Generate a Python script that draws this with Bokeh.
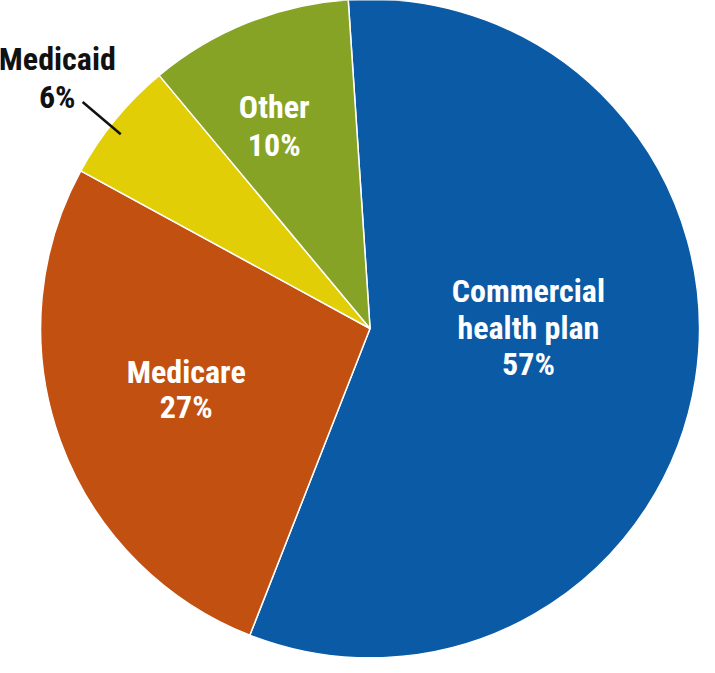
import numpy as np
import pandas as pd
from bokeh.plotting import figure
from bokeh.models import ColumnDataSource, Range1d
from bokeh.core.properties import value
from bokeh.embed import file_html
from bokeh.resources import INLINE

# ---- data ----
categories = ["Commercial health plan", "Medicare", "Medicaid", "Other"]
shares = [57, 27, 6, 10]
colors = ["#0A5AA6", "#C25011", "#E2CE07", "#86A326"]
label_lines = [["Commercial", "health plan", "57%"], ["Medicare", "27%"], ["Medicaid", "6%"], ["Other", "10%"]]

# ---- layout (reference pixel space, y downward) ----
W, H = 715, 673
cx, cy, R = 378, 336, 337
start_deg = 93.8
label_pos = [(540, 298), (190, 381), (58, 60), (280, 109)]
line_gap = [37, 35, 39, 39]
label_colors = ["white", "white", "#111111", "white"]

df = pd.DataFrame({"cat": categories, "share": shares, "color": colors})
df["angle"] = df["share"] / df["share"].sum() * 2 * np.pi
cum = df["angle"].cumsum()
df["start"] = np.deg2rad(start_deg) - (cum - df["angle"])
df["end"] = np.deg2rad(start_deg) - cum
src = ColumnDataSource(df)

p = figure(width=699, height=657, output_backend="svg", toolbar_location=None,
           x_range=Range1d(0, W), y_range=Range1d(0, H), min_border=0)
p.axis.visible = False
p.grid.visible = False
p.outline_line_color = None
p.background_fill_color = "white"

p.wedge(x=cx, y=H - cy, radius=R, start_angle="start", end_angle="end", direction="clock",
        fill_color="color", line_color="white", line_width=1.5, source=src)

font = value("Roboto Condensed")
for lines, (lx, ly), gap, col in zip(label_lines, label_pos, line_gap, label_colors):
    xs = [lx] * len(lines)
    ys = [H - (ly + i * gap) for i in range(len(lines))]
    p.text(x=xs, y=ys, text=lines, text_font=font, text_font_size="32px",
           text_font_style="bold", text_color=col, text_align="center", text_baseline="middle")

# Medicaid leader line
p.line(x=[84, 123], y=[H - 104, H - 137], line_color="#111111", line_width=2.5)

open("out.html", "w").write(file_html(p, INLINE))
